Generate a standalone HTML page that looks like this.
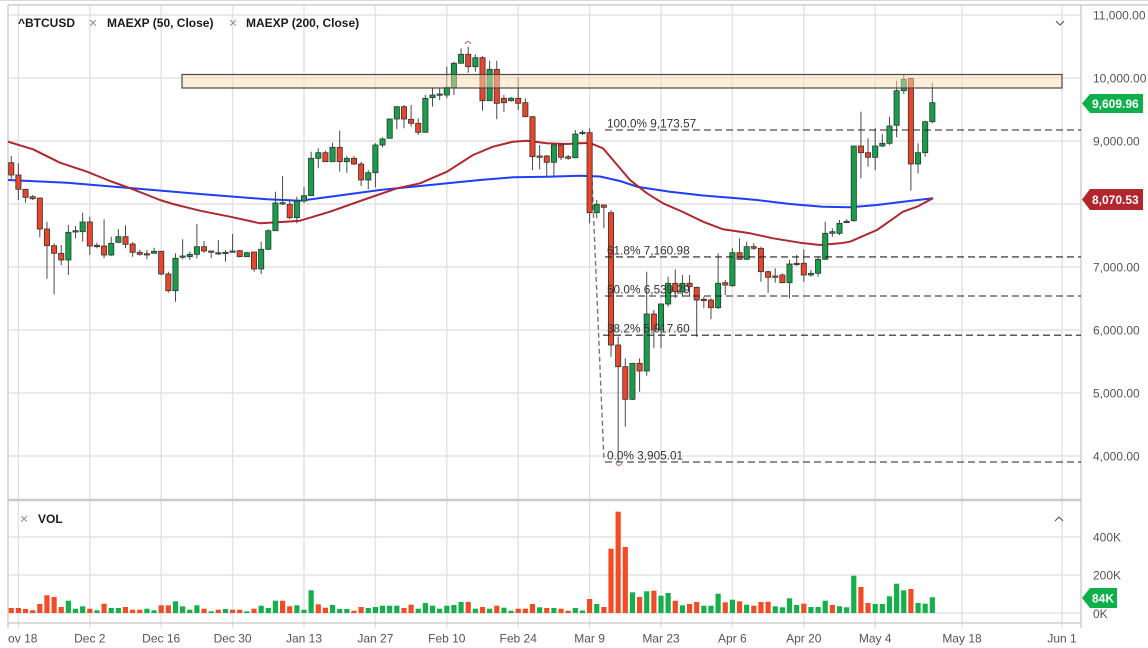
<!DOCTYPE html>
<html><head><meta charset="utf-8"><style>
html,body{margin:0;padding:0;background:#fff;}
svg{display:block;font-family:"Liberation Sans",sans-serif;}
</style></head><body>
<svg id="c" width="1148" height="648" viewBox="0 0 1148 648" xmlns="http://www.w3.org/2000/svg">
<defs><clipPath id="lc"><rect x="8" y="0" width="1140" height="648"/></clipPath></defs>
<rect x="0" y="0" width="1148" height="648" fill="#fff"/>
<line x1="0" y1="0.5" x2="1148" y2="0.5" stroke="#d9d9d9"/>
<g stroke="#e3e3e3" stroke-width="1.5">
<line x1="8" y1="15" x2="1081" y2="15"/>
<line x1="8" y1="78" x2="1081" y2="78"/>
<line x1="8" y1="141" x2="1081" y2="141"/>
<line x1="8" y1="204" x2="1081" y2="204"/>
<line x1="8" y1="267" x2="1081" y2="267"/>
<line x1="8" y1="330" x2="1081" y2="330"/>
<line x1="8" y1="393" x2="1081" y2="393"/>
<line x1="8" y1="456" x2="1081" y2="456"/>
<line x1="8" y1="537" x2="1081" y2="537"/>
<line x1="8" y1="575" x2="1081" y2="575"/>
<line x1="8" y1="613" x2="1081" y2="613"/>
<line x1="18.4" y1="5" x2="18.4" y2="628"/>
<line x1="89.8" y1="5" x2="89.8" y2="628"/>
<line x1="161.2" y1="5" x2="161.2" y2="628"/>
<line x1="232.6" y1="5" x2="232.6" y2="628"/>
<line x1="304" y1="5" x2="304" y2="628"/>
<line x1="375.4" y1="5" x2="375.4" y2="628"/>
<line x1="446.8" y1="5" x2="446.8" y2="628"/>
<line x1="518.2" y1="5" x2="518.2" y2="628"/>
<line x1="589.6" y1="5" x2="589.6" y2="628"/>
<line x1="661" y1="5" x2="661" y2="628"/>
<line x1="732.4" y1="5" x2="732.4" y2="628"/>
<line x1="803.8" y1="5" x2="803.8" y2="628"/>
<line x1="875.2" y1="5" x2="875.2" y2="628"/>
<line x1="962" y1="5" x2="962" y2="628"/>
<line x1="1062" y1="5" x2="1062" y2="628"/>
</g>
<g stroke="#cfcfcf">
<line x1="8" y1="5" x2="1148" y2="5" stroke-width="1.5"/>
<line x1="8" y1="5" x2="8" y2="628" stroke-width="1.5"/>
<line x1="1081" y1="5" x2="1081" y2="628" stroke-width="1.5"/>
<line x1="8" y1="623" x2="1081" y2="623" stroke-width="1.5"/>
<line x1="8" y1="500" x2="1081" y2="500" stroke-width="2.5" stroke="#cacaca"/>
</g>
<g id="vol"></g>
<polyline fill="none" stroke="#1e3ff5" stroke-width="2" stroke-linejoin="round" points="8,180 67,182.7 133,188.3 200,194 267,199.3 300,200.7 330,196.7 380,190 430,185 480,180 513,177.3 547,176.7 580,175.7 600,176.5 620,181 637,186.7 670,191.7 703,195.5 737,198.3 757,200 790,204 823,206.7 850,207.3 877,205 903,201.7 933,198.3"/>
<polyline fill="none" stroke="#b0282f" stroke-width="2" stroke-linejoin="round" points="8,141.7 33,149.3 60,162.7 87,171.7 110,181 133,189.3 160,200 173,204 200,210.7 233,217.3 260,223.3 273,222.5 290,221.5 300,220.7 330,211.7 363,200 397,188.3 420,183.3 447,171.7 473,155 493,146.7 513,141.7 527,140.7 547,143.3 567,144 580,143.3 590,143 603,148.3 613,160 630,180 647,193.3 663,203.3 683,212 703,221.7 723,229.3 750,233.3 773,238.3 800,242.7 820,245 840,243.3 850,241.7 877,230 903,211.7 917,206.7 933,198.3"/>
<line x1="590" y1="133" x2="604" y2="461" stroke="#777" stroke-width="1.4" stroke-dasharray="5,3"/>
<g id="cdl"></g>
<rect x="182" y="74.5" width="880" height="13.5" fill="rgb(250,222,178)" fill-opacity="0.5" stroke="#4a4a4a" stroke-width="1.2"/>
<g stroke="#222" stroke-width="1.1" stroke-dasharray="7,4">
<line x1="605" y1="130" x2="1081" y2="130"/>
<line x1="605" y1="256.9" x2="1081" y2="256.9"/>
<line x1="605" y1="296" x2="1081" y2="296"/>
<line x1="603" y1="335.2" x2="1081" y2="335.2"/>
<line x1="605" y1="462" x2="1081" y2="462"/>
</g>
<g font-size="11.8" fill="#333">
<text x="607" y="127.5">100.0% 9,173.57</text>
<text x="607" y="254.5">61.8% 7,160.98</text>
<text x="607" y="293.5">50.0% 6,539.29</text>
<text x="607" y="332.5">38.2% 5,917.60</text>
<text x="607" y="459.5">0.0% 3,905.01</text>
</g>
<path d="M465,44 Q468,39 471,44" fill="none" stroke="#e06a6a" stroke-width="1.2"/>
<path d="M616,463 Q619,468 622,463" fill="none" stroke="#e06a6a" stroke-width="1.2"/>
<g font-size="12" fill="#1b1b1b" font-weight="bold">
<text x="18" y="27">^BTCUSD</text>
<text x="107" y="27">MAEXP (50, Close)</text>
<text x="246" y="27">MAEXP (200, Close)</text>
<text x="38" y="523">VOL</text>
</g>
<g font-size="14" fill="#8a8a8a">
<text x="89" y="27.5">×</text>
<text x="229" y="27.5">×</text>
<text x="20" y="523.5">×</text>
</g>
<polyline points="1056,21 1060,25 1064,21" fill="none" stroke="#555" stroke-width="1.1"/>
<polyline points="1055,521 1059,517 1063,521" fill="none" stroke="#555" stroke-width="1.1"/>
<g font-size="12" fill="#555">
<text x="1093" y="19.5">11,000.00</text>
<text x="1093" y="82.5">10,000.00</text>
<text x="1093" y="145.5">9,000.00</text>
<text x="1093" y="208.5">8,000.00</text>
<text x="1093" y="271.5">7,000.00</text>
<text x="1093" y="334.5">6,000.00</text>
<text x="1093" y="397.5">5,000.00</text>
<text x="1093" y="460.5">4,000.00</text>
<text x="1093" y="541.5">400K</text>
<text x="1093" y="579.5">200K</text>
<text x="1093" y="618">0K</text>
</g>
<g font-size="12" fill="#555" text-anchor="middle" clip-path="url(#lc)">
<text x="18.4" y="642.5">Nov 18</text>
<text x="89.8" y="642.5">Dec 2</text>
<text x="161.2" y="642.5">Dec 16</text>
<text x="232.6" y="642.5">Dec 30</text>
<text x="304" y="642.5">Jan 13</text>
<text x="375.4" y="642.5">Jan 27</text>
<text x="446.8" y="642.5">Feb 10</text>
<text x="518.2" y="642.5">Feb 24</text>
<text x="589.6" y="642.5">Mar 9</text>
<text x="661" y="642.5">Mar 23</text>
<text x="732.4" y="642.5">Apr 6</text>
<text x="803.8" y="642.5">Apr 20</text>
<text x="875.2" y="642.5">May 4</text>
<text x="962" y="642.5">May 18</text>
<text x="1062" y="642.5">Jun 1</text>
</g>
<polygon points="1082,103.5 1090,94 1143,94 1143,113 1090,113" fill="#0fb04b"/>
<polygon points="1082,199.5 1090,189 1143,189 1143,210 1090,210" fill="#b3262e"/>
<polygon points="1082,598 1090,588 1117,588 1117,608 1090,608" fill="#0fb04b"/>
<g font-size="12" fill="#fff" font-weight="bold">
<text x="1092" y="108">9,609.96</text>
<text x="1092" y="204">8,070.53</text>
<text x="1092" y="602.5">84K</text>
</g>
</svg>
<script>
(function(){
var NS='http://www.w3.org/2000/svg';
function el(t,a,p){var e=document.createElementNS(NS,t);for(var k in a)e.setAttribute(k,a[k]);p.appendChild(e);return e;}
var D=[
[162.7,175,156,179.3],[175,189.3,163.3,200],[189.3,197.3,189.3,202.7],[196.7,198.7,195,200],[198,229,198,237.3],[229,245.7,221.7,278.7],[245.7,253.3,243.3,294.3],[253.3,260,245,265],[260,232.3,225,275],[231.7,230.7,226,238.3],
[231.7,222,212.7,241.7],[222,246,216.7,255],[245.3,246.7,242.7,248.3],[246,255,219.3,258.3],[255,243.3,236.7,256],[242.3,236.7,229,243.3],[236.7,244.3,225.3,248.3],[244,252.3,242,256.7],[252.3,254.3,250,255.7],[253.7,254.3,250,259.3],
[253.3,251.3,247.7,253.3],[251.3,274,250.7,275.3],[274,290.7,271.7,292.7],[290.7,258.3,253.3,301.7],[257.3,256,239.3,259.3],[256.7,254.3,251.7,260],[254.3,246.7,224,258.3],[246.7,251,241,252.7],[251,251.7,251,258.3],[254,252.7,240,255],
[253.3,252.3,250,261.7],[252.3,251,234,252.3],[250.7,256.7,250,257.3],[256.7,252.7,251.7,256.7],[252,269,252,271.7],[269,249.3,241.7,274],[249.3,230.7,229.3,250],[230.7,203,191.7,230.7],[203.3,202.7,176,205],[204.3,217.7,199.3,219.3],
[217.7,201,196.7,223.3],[201,195.7,186.7,203.3],[195.7,158.3,151.7,195.7],[158.3,152.7,148.3,168.3],[152.7,161.7,150.7,161.7],[161.7,147.3,142.7,161.7],[147.3,161.7,130.7,171.7],[161.7,158.3,156,172.7],[158.3,164,156,165],[164,180,161.7,186],
[180,172.7,170,189.3],[172.7,145,143.3,187.3],[145,139,137.3,147.3],[138.3,119,118.3,138.3],[119,106.7,106,129],[106.7,119,105,128.3],[119.3,123.3,105,126.7],[123.3,132.3,118.3,135],[132.3,98.3,95,132.3],[97.7,95,88.3,106.7],
[95,94,88.3,100],[95,87.3,66.7,98.3],[87.3,63.3,61.7,95],[63.3,54.3,48.3,63.3],[54.3,66.7,46.7,72.7],[66.7,57.7,54.3,71.7],[57.7,100.7,56,110.7],[100.7,69.3,60.7,100.7],[69.3,103.3,60.7,119.3],[98.3,102.7,95,111.7],
[100.7,98.3,96.7,101.7],[98.3,103.3,77.3,110],[102.7,116.7,98.3,117.3],[116.7,156.7,116,170],[156,157.3,145,169.3],[156,162.3,155,176],[162.3,145,143.3,176],[145,157.3,143.3,160],[156.7,158.3,155,160],[157.7,134,130,158.3],
[133.3,132.3,130,135],[132.7,212.7,128.3,223.3],[212.7,204.3,200,218.3],[205,207.3,205,228.3],[212.7,345,210,356.7],[345,366.7,336.7,461.7],[366.7,399.3,358.3,426.7],[399.3,363.3,363.3,400],[363.3,371,358.3,391.7],[371,314,271.7,375.7],
[314,330,310,348.3],[330,304,303.3,348.3],[304,283.3,276.7,306.7],[283.3,291.7,269.3,298.3],[291.7,283.3,275,296.7],[283.3,286.7,275,296.7],[287.3,300,286.7,336.7],[299.3,300,296.7,308.3],[300,307.7,298.3,319.3],[307.7,283.3,253.3,309],
[282.7,285,280,295],[285.7,252.7,248.3,286.7],[252.7,259.3,238.3,260],[259.3,246.7,241.7,260],[246.7,248.3,243.3,250],[248.3,271.7,246.7,281.7],[271.7,277.3,270.7,292.7],[276,277.3,268.3,282.7],[275,282.7,273.3,283.3],[282.7,264,260,298.3],
[263.3,264,255,266],[263.3,275,249.3,281.7],[275,273.3,270,276.7],[273.3,259.3,256.7,276.7],[259.3,233.3,221.7,260],[233.3,231.7,228.3,236.7],[233.3,223.3,220,235],[222.3,221.3,219.3,223.3],[220.7,146,146,221.7],[146,152.7,111.7,178.3],
[152.7,157.3,138.3,166.7],[157.3,146,128.3,170],[146,143.3,134,147.3],[143.3,126,116.7,145],[125.3,90.7,80.7,137.3],[90.7,79.3,75,94],[78.3,164,78.3,190.7],[164,152.7,143.3,173.3],[152.7,121.7,120.7,156.7],[121.7,102.7,82.7,123.3]
];
var V=[
-5,-5,-4,-2.7,-9,-17.7,-16,-6,12.3,4.3,
6.7,-4.3,2.7,-9.3,5,5,-6,-3.3,-3.3,4.3,
2.7,-7.7,-7.7,11.7,6.7,3.3,7.7,-4.3,1.7,-3.3,
4,-3.3,-3.3,1.7,-4.3,7.3,5,12.3,-12.3,-6.7,
7.7,3.3,22.7,-8.7,-5.3,8,4,4,-2.3,-6,
5,6,7.3,7.3,7.3,-5,-8.3,4.3,10,7.3,
4.3,7.3,8,11,-11,4.3,-6,4.3,-7.3,5.3,
2.3,-4.3,-4.3,-9,5.7,-5,5,-4.3,-2.3,5,
2.5,-14,9,-6,-64.3,-101.3,-66,20.7,-16,21.7,
-22.3,17.3,20,-12.3,7.7,-9,-11,7.3,7.3,19.3,
-10.7,13.3,-11.7,8.3,-7.3,-11,-11.3,6.7,5.7,14.7,
8,-9.3,6,6,12.3,-8,6.7,5.7,37.3,-26,
-10,9,9,16.7,29.3,22.7,-24,10,9.3,15.7
];
var gv=document.getElementById('vol');
V.forEach(function(v,j){var x=18.4+7.14*(j-1);var h=Math.abs(v);
 el('rect',{x:(x-2.6).toFixed(2),y:(613-h).toFixed(2),width:5.2,height:h.toFixed(2),fill:v<0?'#f24c27':'#14b04c'},gv);});
var g=document.getElementById('cdl');
D.forEach(function(d,j){var x=18.4+7.14*(j-1);
 el('line',{x1:x.toFixed(2),y1:d[2],x2:x.toFixed(2),y2:d[3],stroke:'#4a4a4a','stroke-width':1},g);
 var t=Math.min(d[0],d[1]),b=Math.max(d[0],d[1]);var h=Math.max(b-t,1.3);
 el('rect',{x:(x-2.6).toFixed(2),y:t,width:5.2,height:h.toFixed(2),fill:d[1]>d[0]?'#e8462a':'#13a049',stroke:'#333','stroke-width':0.8},g);
});
})();
</script>
</body></html>
